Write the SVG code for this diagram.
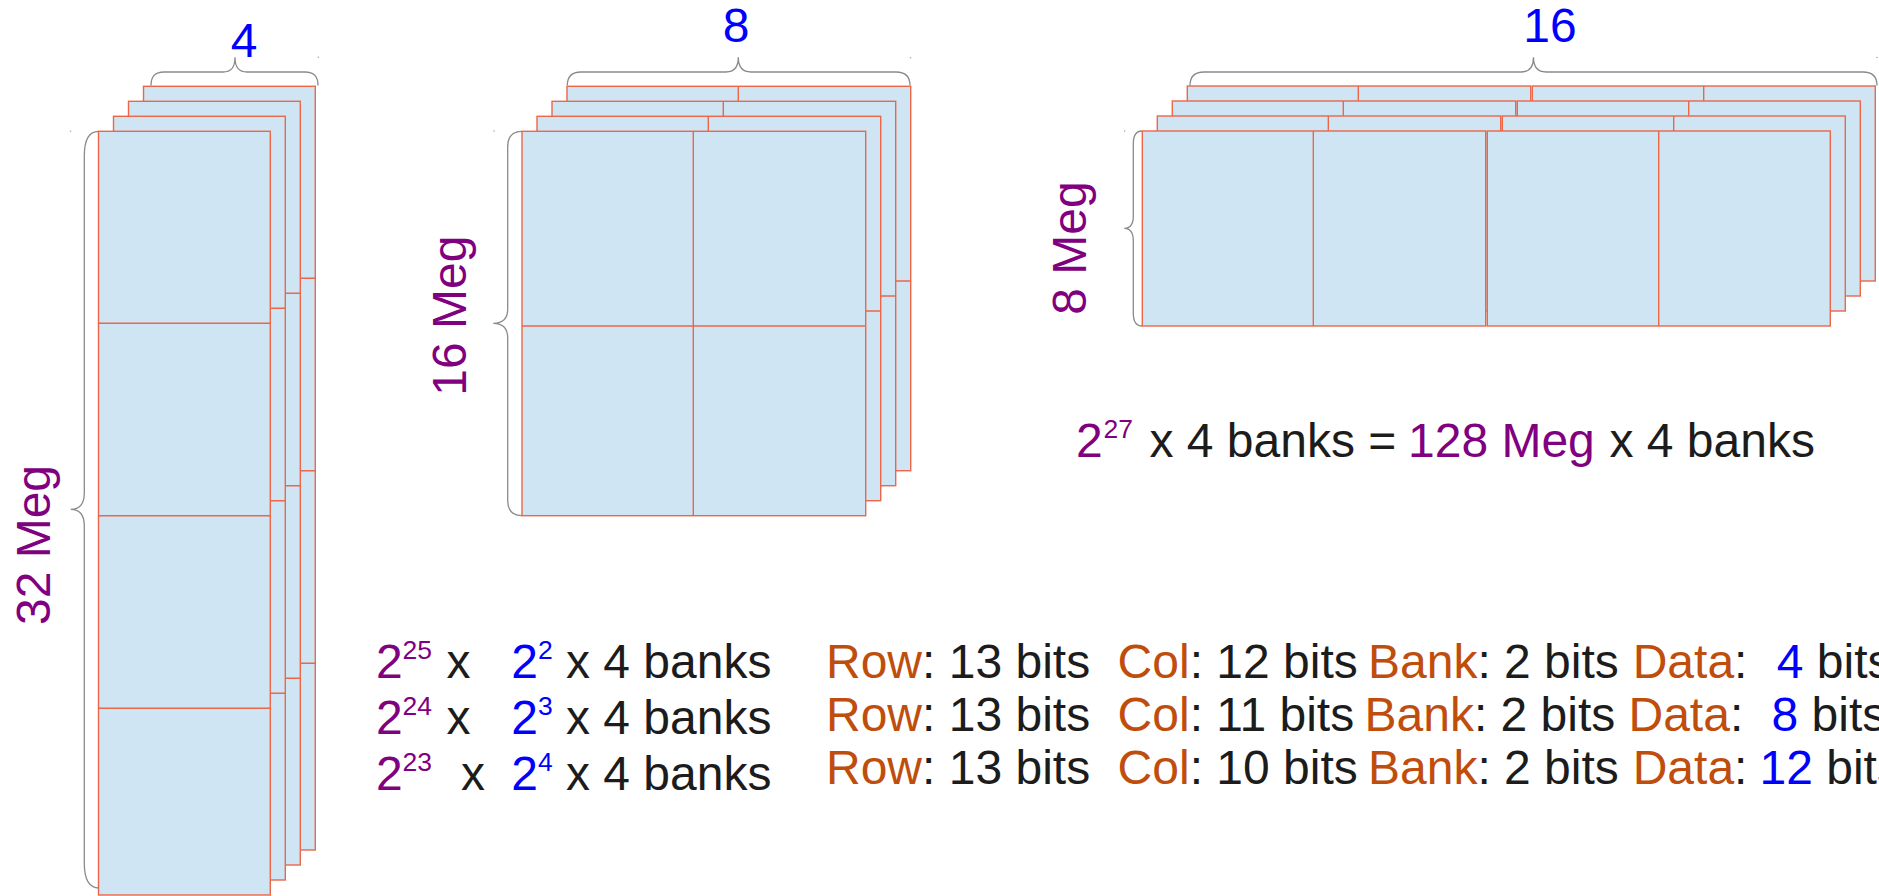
<svg xmlns="http://www.w3.org/2000/svg" width="1879" height="896" viewBox="0 0 1879 896">
<style>
.t{font-family:"Liberation Sans",Arial,sans-serif;font-size:48px;fill:#1c1c1c}
.p{fill:#800080}.b{fill:#0000ff}.o{fill:#bf4e0c}.s{font-size:26.5px}
.cell{fill:#cfe5f3;stroke:#ec6747;stroke-width:1.4}
.dv{stroke:#ec6747;stroke-width:1.4;fill:none}
.brace{fill:none;stroke:#8a8a8a;stroke-width:1.3}
.dot{fill:#aaa}
</style>
<defs>
<g id="tall">
<rect class="cell" x="0" y="0" width="171.8" height="763.7"/>
<path class="dv" d="M0,192H171.8M0,384.4H171.8M0,577H171.8"/>
</g>
<g id="sq">
<rect class="cell" x="0" y="0" width="343.7" height="384.4"/>
<path class="dv" d="M171.3,0V384.4M0,194.7H343.7"/>
</g>
<g id="wide">
<rect class="cell" x="0" y="0" width="343.4" height="195"/>
<path class="dv" d="M171,0V195"/>
<rect class="cell" x="345" y="0" width="343" height="195"/>
<path class="dv" d="M516.4,0V195"/>
</g>
</defs>

<g id="stack-32meg">
<use href="#tall" x="143.5" y="86.3"/>
<use href="#tall" x="128.5" y="101.3"/>
<use href="#tall" x="113.5" y="116.3"/>
<use href="#tall" x="98.5" y="131.3"/>
</g>

<g id="stack-16meg">
<use href="#sq" x="567" y="86.3"/>
<use href="#sq" x="552" y="101.3"/>
<use href="#sq" x="537" y="116.3"/>
<use href="#sq" x="522" y="131.3"/>
</g>

<g id="stack-8meg">
<use href="#wide" x="1187.3" y="86"/>
<use href="#wide" x="1172.3" y="101"/>
<use href="#wide" x="1157.3" y="116"/>
<use href="#wide" x="1142.3" y="131"/>
</g>

<g id="connectors">
<path class="brace" d="M151,85.5 C151,76 155,72 164,72 L223,72 C231,72 235,68 235,57.3 C235,68 239,72 247,72 L305,72 C314,72 318,76 318,85.5"/>
<path class="brace" d="M567.3,85.5 C567.3,76 572,72 581,72 L726,72 C734,72 738.3,68 738.3,57.3 C738.3,68 743,72 751,72 L896,72 C905,72 910,76 910,85.5"/>
<path class="brace" d="M1190,85.5 C1190,76 1195,72 1204,72 L1521,72 C1529,72 1533.5,68 1533.5,57.3 C1533.5,68 1538,72 1546,72 L1863,72 C1872,72 1877,76 1877,85.5"/>
<path class="brace" d="M98.5,131.3 C89,131.3 84.3,140 84.3,156 L84.3,493 C84.3,503 80,509.3 70.7,509.3 C80,509.3 84.3,516 84.3,526 L84.3,863 C84.3,879 89,888 99,888"/>
<path class="brace" d="M522,131.3 C512,131.3 507.7,137 507.7,147 L507.7,309 C507.7,318 503,323.3 493.3,323.3 C503,323.3 507.7,329 507.7,338 L507.7,500 C507.7,510 512,515.7 522,515.7"/>
<path class="brace" d="M1142,131 C1136,131 1133.3,136 1133.3,144 L1133.3,216 C1133.3,224 1130,228.3 1124.3,228.3 C1130,228.3 1133.3,233 1133.3,241 L1133.3,313 C1133.3,321 1136,326 1142,326"/>
<circle class="dot" cx="318.3" cy="57.3" r="0.8"/>
<circle class="dot" cx="70.5" cy="131.3" r="0.8"/>
<circle class="dot" cx="910.5" cy="57.7" r="0.8"/>
<circle class="dot" cx="494" cy="131" r="0.8"/>
<circle class="dot" cx="1877" cy="57.5" r="0.8"/>
<circle class="dot" cx="1124.7" cy="131" r="0.8"/>
</g>

<g id="labels">
<text class="t b" x="244" y="56.7" text-anchor="middle">4</text>
<text class="t b" x="736" y="41.7" text-anchor="middle">8</text>
<text class="t b" x="1550" y="41.7" text-anchor="middle">16</text>
<text class="t p" transform="translate(49.5,545) rotate(-90)" text-anchor="middle">32 Meg</text>
<text class="t p" transform="translate(465.5,315.7) rotate(-90)" text-anchor="middle">16 Meg</text>
<text class="t p" transform="translate(1085.5,248) rotate(-90)" text-anchor="middle">8 Meg</text>
</g>

<g id="total">
<text class="t p" x="1076" y="456.5">2</text>
<text class="t p s" x="1103.5" y="438">27</text>
<text class="t" x="1149.5" y="456.5">x 4 banks =</text>
<text class="t p" x="1408" y="456.5">128 Meg</text>
<text class="t" x="1609.5" y="456.5">x 4 banks</text>
</g>

<g id="sizes">
<text class="t p" x="375.9" y="678.3">2</text>
<text class="t p s" x="402.6" y="659.3">25</text>
<text class="t" x="446.5" y="678.3">x</text>
<text class="t b" x="511.3" y="678.3">2</text>
<text class="t b s" x="538" y="659.3">2</text>
<text class="t" x="566" y="678.3">x 4 banks</text>

<text class="t p" x="375.9" y="734.3">2</text>
<text class="t p s" x="402.6" y="715.3">24</text>
<text class="t" x="446.5" y="734.3">x</text>
<text class="t b" x="511.3" y="734.3">2</text>
<text class="t b s" x="538" y="715.3">3</text>
<text class="t" x="566" y="734.3">x 4 banks</text>

<text class="t p" x="375.9" y="790">2</text>
<text class="t p s" x="402.6" y="771">23</text>
<text class="t" x="461" y="790">x</text>
<text class="t b" x="511.3" y="790">2</text>
<text class="t b s" x="538" y="771">4</text>
<text class="t" x="566" y="790">x 4 banks</text>
</g>

<g id="fields">
<text class="t" x="826" y="678.3"><tspan class="o">Row</tspan>: 13 bits</text>
<text class="t" x="1117.6" y="678.3"><tspan class="o">Col</tspan>: 12 bits</text>
<text class="t" x="1368" y="678.3"><tspan class="o">Bank</tspan>: 2 bits</text>
<text class="t" x="1632.7" y="678.3"><tspan class="o">Data</tspan>:</text>
<text class="t" x="1776.8" y="678.3"><tspan class="b">4</tspan> bits</text>

<text class="t" x="826" y="731"><tspan class="o">Row</tspan>: 13 bits</text>
<text class="t" x="1117.6" y="731"><tspan class="o">Col</tspan>: 11 bits</text>
<text class="t" x="1364.5" y="731"><tspan class="o">Bank</tspan>: 2 bits</text>
<text class="t" x="1628.5" y="731"><tspan class="o">Data</tspan>:</text>
<text class="t" x="1771.5" y="731"><tspan class="b">8</tspan> bits</text>

<text class="t" x="826" y="784"><tspan class="o">Row</tspan>: 13 bits</text>
<text class="t" x="1117.6" y="784"><tspan class="o">Col</tspan>: 10 bits</text>
<text class="t" x="1368" y="784"><tspan class="o">Bank</tspan>: 2 bits</text>
<text class="t" x="1632.7" y="784"><tspan class="o">Data</tspan>:</text>
<text class="t" x="1759.5" y="784"><tspan class="b">12</tspan> bits</text>
</g>
</svg>
